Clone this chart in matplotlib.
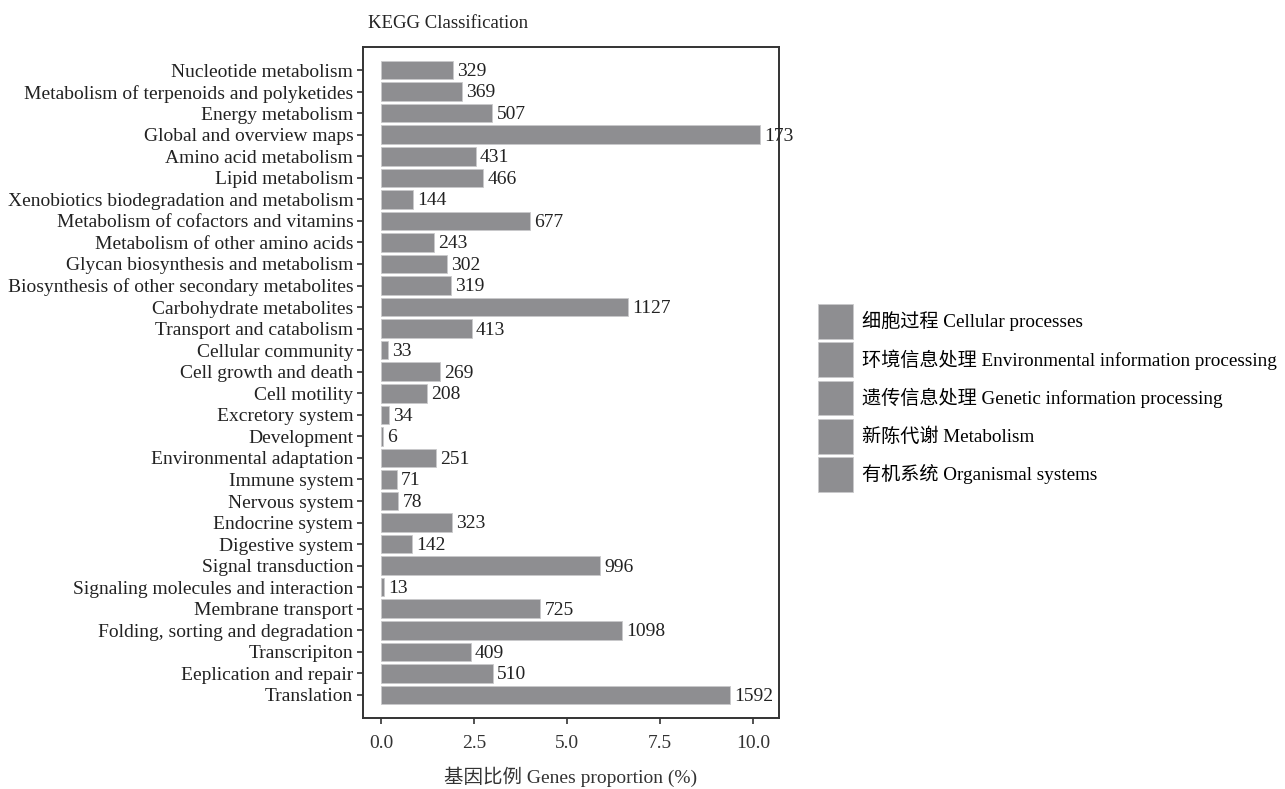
import matplotlib
matplotlib.use("Agg")
import matplotlib.pyplot as plt
from matplotlib.patches import Patch

plt.rcParams["font.family"] = ["Liberation Serif", "Noto Sans CJK SC", "DejaVu Sans"]

# KEGG pathway categories, listed top to bottom
pathways = [
    "Nucleotide metabolism",
    "Metabolism of terpenoids and polyketides",
    "Energy metabolism",
    "Global and overview maps",
    "Amino acid metabolism",
    "Lipid metabolism",
    "Xenobiotics biodegradation and metabolism",
    "Metabolism of cofactors and vitamins",
    "Metabolism of other amino acids",
    "Glycan biosynthesis and metabolism",
    "Biosynthesis of other secondary metabolites",
    "Carbohydrate metabolites",
    "Transport and catabolism",
    "Cellular community",
    "Cell growth and death",
    "Cell motility",
    "Excretory system",
    "Development",
    "Environmental adaptation",
    "Immune system",
    "Nervous system",
    "Endocrine system",
    "Digestive system",
    "Signal transduction",
    "Signaling molecules and interaction",
    "Membrane transport",
    "Folding, sorting and degradation",
    "Transcripiton",
    "Eeplication and repair",
    "Translation",
]

# Gene counts printed next to each bar
gene_counts = [329, 369, 507, 173, 431, 466, 144, 677, 243, 302, 319, 1127, 413,
               33, 269, 208, 34, 6, 251, 71, 78, 323, 142, 996, 13, 725, 1098,
               409, 510, 1592]

# Share of annotated genes in each pathway (%)
proportions = [1.94, 2.18, 2.99, 10.19, 2.54, 2.75, 0.85, 3.99, 1.43, 1.78, 1.88,
               6.65, 2.44, 0.19, 1.59, 1.23, 0.20, 0.04, 1.48, 0.42, 0.46, 1.91,
               0.84, 5.88, 0.08, 4.28, 6.48, 2.41, 3.01, 9.39]

legend_labels = [
    "细胞过程 Cellular processes",
    "环境信息处理 Environmental information processing",
    "遗传信息处理 Genetic information processing",
    "新陈代谢 Metabolism",
    "有机系统 Organismal systems",
]

xticks = [0.0, 2.5, 5.0, 7.5, 10.0]

bar_color = "#8e8e91"
fs = 14

fig = plt.figure(figsize=(12.85, 7.89), dpi=100)
ax = fig.add_axes([363 / 1285, 1 - 718 / 789, (779 - 363) / 1285, (718 - 47) / 789])

n = len(pathways)
ypos = list(range(n))
ax.barh(ypos, proportions, height=0.86, color=bar_color,
        edgecolor="#c9c9cb", linewidth=0.6)

for y, v, c in zip(ypos, proportions, gene_counts):
    ax.annotate(str(c), xy=(v, y), xytext=(3, -1), textcoords="offset points",
                ha="left", va="center", fontsize=fs, color="#222222",
                annotation_clip=False)

ax.set_yticks(ypos)
ax.set_yticklabels(pathways, fontsize=fs, color="#222222")
ax.set_ylim(n - 1 + 1.07, -1.07)

ax.set_xticks(xticks)
ax.set_xticklabels([f"{t:.1f}" for t in xticks], fontsize=fs, color="#333333")
ax.set_xlim(-0.49, 10.70)

ax.tick_params(axis="both", length=4, width=1.2, color="#333333")
ax.tick_params(axis="x", pad=8)
ax.tick_params(axis="y", pad=3)
for s in ax.spines.values():
    s.set_linewidth(1.4)
    s.set_color("#333333")

ax.set_xlabel("基因比例 Genes proportion (%)", fontsize=fs, color="#333333",
              labelpad=11)
fig.text(368 / 1285, 1 - 23 / 789, "KEGG Classification", fontsize=13.5,
         ha="left", va="center", color="#222222")

handles = [Patch(facecolor=bar_color, edgecolor="#c9c9cb", linewidth=0.6)
           for _ in legend_labels]
fig.legend(handles, legend_labels, loc="upper left",
           bbox_to_anchor=(818 / 1285, 1 - 304 / 789), frameon=False,
           fontsize=13.8, handlelength=1.82, handleheight=2.42,
           labelspacing=0.18, handletextpad=0.45, borderpad=0, borderaxespad=0)

fig.savefig("out.png", dpi=100, facecolor="white")
